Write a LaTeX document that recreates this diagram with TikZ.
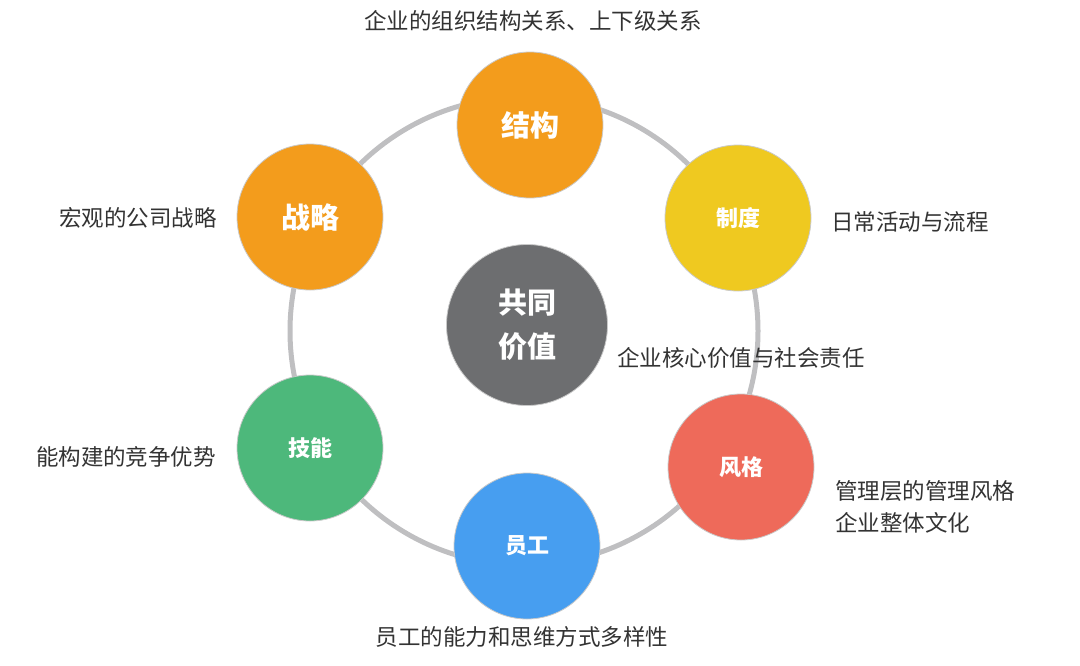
\documentclass[tikz,border=0pt]{standalone}
\usepackage{fontspec}
\setmainfont{Noto Sans CJK SC}
\definecolor{ringgray}{HTML}{BFBFC1}
\definecolor{cOrange}{HTML}{F39C1C}
\definecolor{cYellow}{HTML}{EFC920}
\definecolor{cGray}{HTML}{6D6E70}
\definecolor{cRed}{HTML}{EE6A5A}
\definecolor{cBlue}{HTML}{479EF0}
\definecolor{cGreen}{HTML}{4DB87B}
\definecolor{txt}{HTML}{333333}
\definecolor{edge}{HTML}{C9C9C9}
\tikzset{
  ringstyle/.style={circle, draw=ringgray, line width=5pt, minimum size=468pt, inner sep=0pt},
  bubble/.style={circle, draw=edge, line width=0.8pt, minimum size=146pt, inner sep=0pt, text=white, font=\fontsize{22}{26}\selectfont\bfseries},
  bigbubble/.style={bubble, font=\fontsize{29}{34}\selectfont\bfseries},
  caption/.style={text=txt, font=\fontsize{22.5}{32}\selectfont, inner sep=0pt},
}
\begin{document}
\begin{tikzpicture}[x=1pt,y=-1pt]
\useasboundingbox (0,0) rectangle (1080,665);
\node[ringstyle] (ring) at (524,331) {};
\node[bigbubble, fill=cOrange] (jiegou) at (530,125) {结构};
\node[bubble, fill=cYellow] (zhidu) at (738,218) {制度};
\node[bigbubble, fill=cOrange] (zhanlue) at (310,217) {战略};
\node[bubble, fill=cRed] (fengge) at (741,467) {风格};
\node[bubble, fill=cBlue] (yuangong) at (527,546) {员工};
\node[bubble, fill=cGreen] (jineng) at (310,448) {技能};
\node[bigbubble, fill=cGray, minimum size=161pt, align=center, font=\fontsize{29}{44}\selectfont\bfseries] (gongtong) at (527,325) {共同\\价值};
\node[caption] (t1) at (533,21) {企业的组织结构关系、上下级关系};
\node[caption] (t2) at (138,218) {宏观的公司战略};
\node[caption] (t3) at (910,222) {日常活动与流程};
\node[caption] (t4) at (741,358) {企业核心价值与社会责任};
\node[caption] (t5) at (126,457) {能构建的竞争优势};
\node[caption, anchor=west, align=left] (t6) at (835,507) {管理层的管理风格\\企业整体文化};
\node[caption] (t7) at (522,637) {员工的能力和思维方式多样性};
\end{tikzpicture}
\end{document}
